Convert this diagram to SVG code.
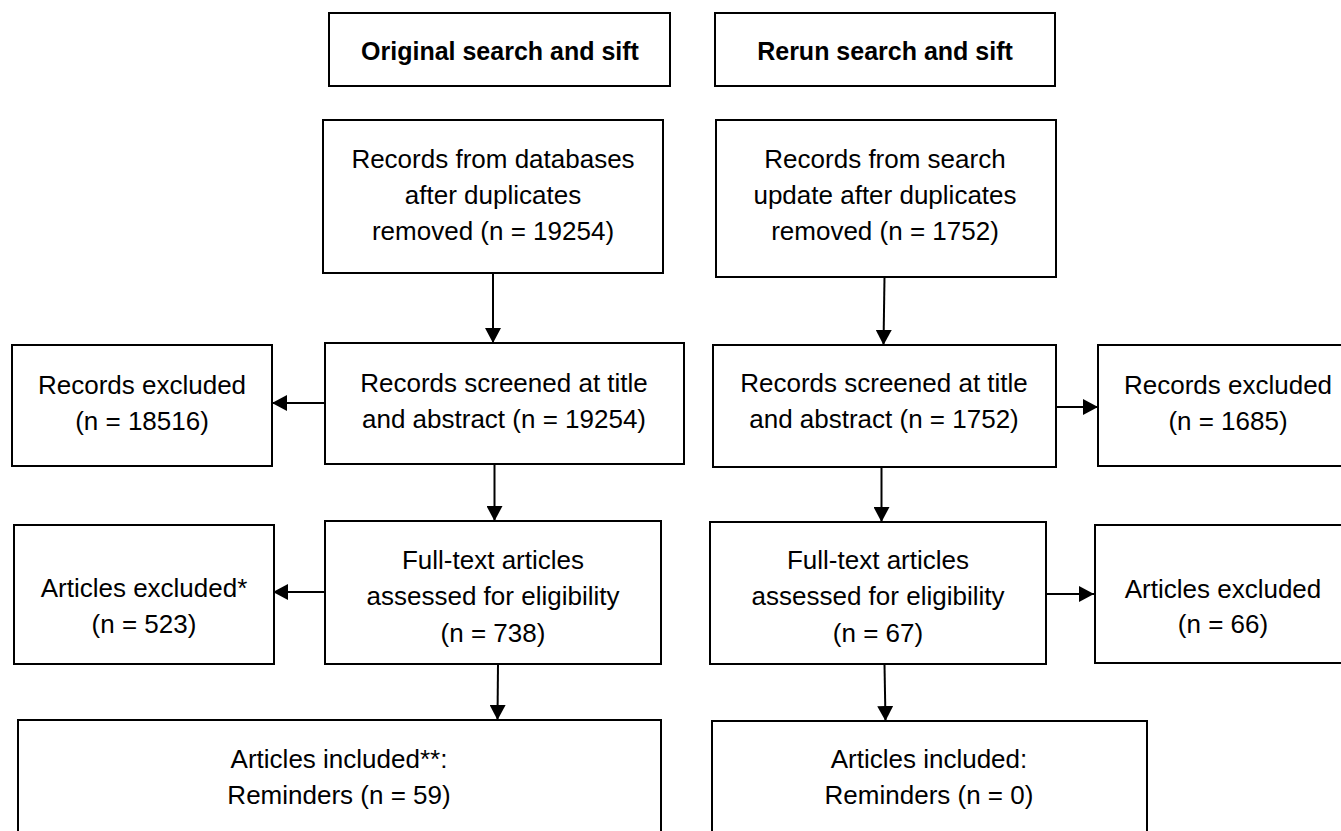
<svg xmlns="http://www.w3.org/2000/svg" width="1341" height="831" viewBox="0 0 1341 831">
<style>
.box{fill:#fff;stroke:#000;stroke-width:2}
.t{font-family:"Liberation Sans",Arial,sans-serif;font-size:26px;fill:#000;text-anchor:middle}
.b{font-family:"Liberation Sans",Arial,sans-serif;font-size:25px;font-weight:bold;fill:#000;text-anchor:middle}
.c{stroke:#000;stroke-width:2;fill:none;marker-end:url(#ah)}
</style>
<defs>
<marker id="ah" markerUnits="userSpaceOnUse" markerWidth="15" markerHeight="16" viewBox="0 0 15 16" refX="15" refY="8" orient="auto">
<path d="M0,0 L15,8 L0,16 Z" fill="#000"/>
</marker>
</defs>
<rect width="1341" height="831" fill="#fff"/>
<g id="connectors">
<line class="c" x1="493" y1="273" x2="493" y2="343"/>
<line class="c" x1="884.5" y1="277" x2="883.5" y2="345"/>
<line class="c" x1="325" y1="403" x2="272" y2="403"/>
<line class="c" x1="1056" y1="407" x2="1098" y2="407"/>
<line class="c" x1="494.5" y1="464" x2="494.5" y2="521"/>
<line class="c" x1="881.5" y1="467" x2="881.5" y2="522"/>
<line class="c" x1="325" y1="592" x2="273" y2="592"/>
<line class="c" x1="1046" y1="594" x2="1094" y2="594"/>
<line class="c" x1="498" y1="664" x2="497.5" y2="720"/>
<line class="c" x1="884.5" y1="664.5" x2="885.5" y2="721"/>
</g>
<g id="title-original">
<rect class="box" x="329" y="13" width="341" height="73"/>
<text class="b" x="500" y="60">Original search and sift</text>
</g>
<g id="title-rerun">
<rect class="box" x="715" y="13" width="340" height="73"/>
<text class="b" x="885" y="60">Rerun search and sift</text>
</g>
<g id="records-databases">
<rect class="box" x="323" y="120" width="340" height="153"/>
<text class="t" x="493" y="168">Records from databases</text>
<text class="t" x="493" y="204">after duplicates</text>
<text class="t" x="493" y="240">removed (n = 19254)</text>
</g>
<g id="records-search-update">
<rect class="box" x="716" y="120" width="340" height="157"/>
<text class="t" x="885" y="168">Records from search</text>
<text class="t" x="885" y="204">update after duplicates</text>
<text class="t" x="885" y="240">removed (n = 1752)</text>
</g>
<g id="records-excluded-left">
<rect class="box" x="12" y="345" width="260" height="121"/>
<text class="t" x="142" y="394">Records excluded</text>
<text class="t" x="142" y="430">(n = 18516)</text>
</g>
<g id="records-screened-left">
<rect class="box" x="325" y="343" width="359" height="121"/>
<text class="t" x="504" y="392">Records screened at title</text>
<text class="t" x="504" y="428">and abstract (n = 19254)</text>
</g>
<g id="records-screened-right">
<rect class="box" x="713" y="345" width="343" height="122"/>
<text class="t" x="884" y="392">Records screened at title</text>
<text class="t" x="884" y="428">and abstract (n = 1752)</text>
</g>
<g id="records-excluded-right">
<rect class="box" x="1098" y="345" width="260" height="121"/>
<text class="t" x="1228" y="394">Records excluded</text>
<text class="t" x="1228" y="430">(n = 1685)</text>
</g>
<g id="articles-excluded-left">
<rect class="box" x="14" y="525" width="260" height="139"/>
<text class="t" x="144" y="597">Articles excluded*</text>
<text class="t" x="144" y="633">(n = 523)</text>
</g>
<g id="fulltext-left">
<rect class="box" x="325" y="521" width="336" height="143"/>
<text class="t" x="493" y="569">Full-text articles</text>
<text class="t" x="493" y="605">assessed for eligibility</text>
<text class="t" x="493" y="642">(n = 738)</text>
</g>
<g id="fulltext-right">
<rect class="box" x="710" y="522" width="336" height="142"/>
<text class="t" x="878" y="569">Full-text articles</text>
<text class="t" x="878" y="605">assessed for eligibility</text>
<text class="t" x="878" y="642">(n = 67)</text>
</g>
<g id="articles-excluded-right">
<rect class="box" x="1095" y="525" width="258" height="138"/>
<text class="t" x="1223" y="598">Articles excluded</text>
<text class="t" x="1223" y="633">(n = 66)</text>
</g>
<g id="articles-included-left">
<rect class="box" x="18" y="720" width="643" height="130"/>
<text class="t" x="339" y="768">Articles included**:</text>
<text class="t" x="339" y="804">Reminders (n = 59)</text>
</g>
<g id="articles-included-right">
<rect class="box" x="712" y="721" width="435" height="130"/>
<text class="t" x="929" y="768">Articles included:</text>
<text class="t" x="929" y="804">Reminders (n = 0)</text>
</g>
</svg>
